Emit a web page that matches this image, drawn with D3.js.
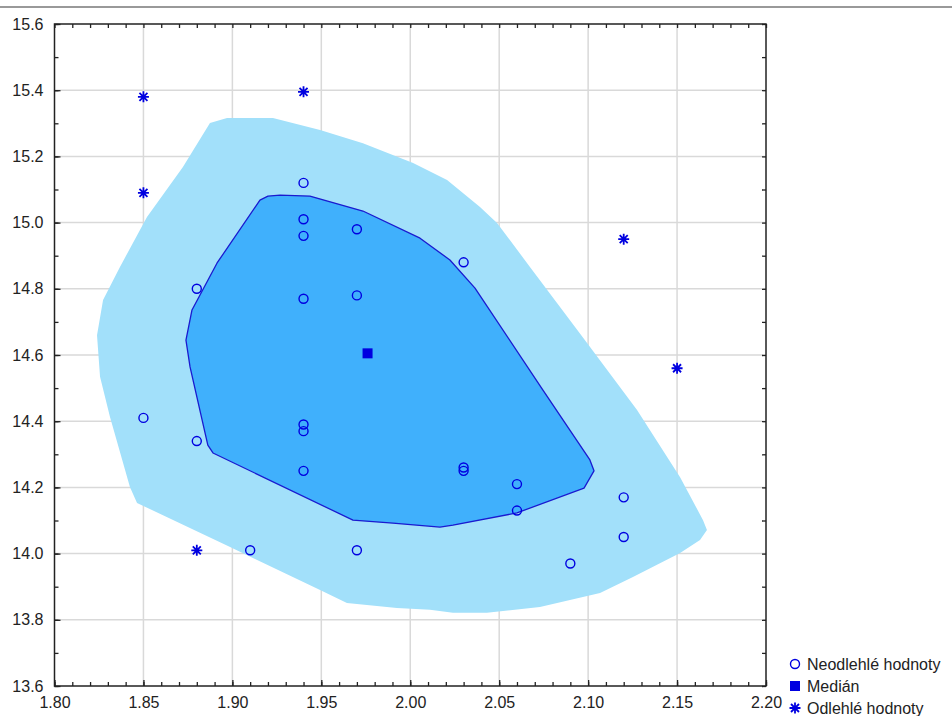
<!DOCTYPE html>
<meta charset="utf-8">
<style>
body { margin: 0; background: #fff; }
text { font-family: "Liberation Sans", Arial, sans-serif; fill: #222; }
.grid line { stroke: #d9d9d9; stroke-width: 1.5px; }
.axis path { display: none; }
.axis line { stroke: #222; stroke-width: 1.3px; }
</style>
<svg width="952" height="716"></svg>
<script src="https://d3js.org/d3.v7.min.js"></script>
<script>

// non-outlier points (x, y)
var inX = [1.94, 1.94, 1.94, 1.97, 2.03, 1.88, 1.94, 1.97, 1.85, 1.94, 1.94, 1.88, 1.94, 2.03, 2.03, 2.06, 2.06, 2.12, 2.12, 1.91, 1.97, 2.09];
var inY = [15.12, 15.01, 14.96, 14.98, 14.88, 14.80, 14.77, 14.78, 14.41, 14.39, 14.37, 14.34, 14.25, 14.26, 14.25, 14.21, 14.13, 14.17, 14.05, 14.01, 14.01, 13.97];

// outliers
var outX = [1.85, 1.85, 1.94, 2.12, 2.15, 1.88];
var outY = [15.38, 15.09, 15.395, 14.95, 14.56, 14.01];

// median
var medX = 1.976, medY = 14.605;

// bag (inner hull)
var bagX = [1.9155, 1.920, 1.9268, 1.9436, 1.9734, 2.0055, 2.0223, 2.0364, 2.0746, 2.101, 2.1033, 2.0977, 2.060, 2.024, 2.0167, 1.9903, 1.9678, 1.8891, 1.8862, 1.8762, 1.8739, 1.8773, 1.8914];
var bagY = [15.068, 15.080, 15.083, 15.080, 15.035, 14.953, 14.887, 14.802, 14.494, 14.283, 14.250, 14.198, 14.123, 14.086, 14.080, 14.092, 14.101, 14.304, 14.328, 14.564, 14.645, 14.736, 14.878];

// fence (outer hull)
var fenceX = [1.8239, 1.8273, 1.8368, 1.852, 1.8722, 1.8874, 1.897, 1.9228, 1.9493, 1.9734, 2.0016, 2.0207, 2.0392, 2.0488, 2.0673, 2.0994, 2.1275, 2.1517, 2.1646, 2.1668, 2.1629, 2.1517, 2.1252, 2.1067, 2.0729, 2.0431, 2.024, 2.0111, 1.9925, 1.9644, 1.9493, 1.8987, 1.8464, 1.8424, 1.8312, 1.8256];
var fenceY = [14.660, 14.766, 14.866, 15.017, 15.168, 15.301, 15.316, 15.316, 15.280, 15.240, 15.180, 15.129, 15.047, 14.999, 14.866, 14.636, 14.434, 14.231, 14.101, 14.071, 14.041, 14.002, 13.929, 13.881, 13.839, 13.821, 13.821, 13.830, 13.836, 13.851, 13.890, 14.020, 14.153, 14.201, 14.413, 14.534];

var xTicks = [1.80, 1.85, 1.90, 1.95, 2.00, 2.05, 2.10, 2.15, 2.20];
var yTicks = [13.6, 13.8, 14.0, 14.2, 14.4, 14.6, 14.8, 15.0, 15.2, 15.4, 15.6];
var legendLabels = ["Neodlehlé hodnoty", "Medián", "Odlehlé hodnoty"];

function pairs(xs, ys) {
  return xs.map(function(v, i) { return [v, ys[i]]; });
}

var svg = d3.select("svg");
var pLeft = 54.5, pRight = 766, pTop = 24, pBottom = 686;

var x = d3.scaleLinear().domain([1.8, 2.2]).range([pLeft, pRight]);
var y = d3.scaleLinear().domain([13.6, 15.6]).range([pBottom, pTop]);

var blue = "#0000e0";

// separator line at top
svg.append("line")
    .attr("x1", 0).attr("x2", 952).attr("y1", 7).attr("y2", 7)
    .attr("stroke", "#777").attr("stroke-width", 1.5);

// grid
var grid = svg.append("g").attr("class", "grid");
grid.selectAll(".gx").data(xTicks.slice(1, -1)).enter().append("line")
    .attr("x1", function(d) { return x(d); }).attr("x2", function(d) { return x(d); })
    .attr("y1", pTop).attr("y2", pBottom);
grid.selectAll(".gy").data(yTicks.slice(1, -1)).enter().append("line")
    .attr("y1", function(d) { return y(d); }).attr("y2", function(d) { return y(d); })
    .attr("x1", pLeft).attr("x2", pRight);

// hulls
var hullLine = d3.line()
    .x(function(d) { return x(d[0]); })
    .y(function(d) { return y(d[1]); })
    .curve(d3.curveLinearClosed);

svg.append("path")
    .attr("d", hullLine(pairs(fenceX, fenceY)))
    .attr("fill", "#a2e0fa");

svg.append("path")
    .attr("d", hullLine(pairs(bagX, bagY)))
    .attr("fill", "#40b0fc")
    .attr("stroke", "#1a1ad0")
    .attr("stroke-width", 1.3)
    .attr("stroke-linejoin", "round");

// axes frame
svg.append("rect")
    .attr("x", pLeft).attr("y", pTop)
    .attr("width", pRight - pLeft).attr("height", pBottom - pTop)
    .attr("fill", "none").attr("stroke", "#222").attr("stroke-width", 1.5);

var minorX = d3.range(0, 41).map(function(i) { return 1.8 + i * 0.01; });
var minorY = d3.range(0, 21).map(function(i) { return 13.6 + i * 0.1; });

svg.append("g").attr("class", "axis")
    .attr("transform", "translate(0," + pBottom + ")")
    .call(d3.axisBottom(x).tickValues(minorX).tickSize(-4).tickFormat(""));
svg.append("g").attr("class", "axis")
    .attr("transform", "translate(0," + pTop + ")")
    .call(d3.axisTop(x).tickValues(minorX).tickSize(-4).tickFormat(""));
svg.append("g").attr("class", "axis")
    .attr("transform", "translate(" + pLeft + ",0)")
    .call(d3.axisLeft(y).tickValues(minorY).tickSize(-4).tickFormat(""));
svg.append("g").attr("class", "axis")
    .attr("transform", "translate(" + pRight + ",0)")
    .call(d3.axisRight(y).tickValues(minorY).tickSize(-4).tickFormat(""));

// tick labels
var xLab = svg.append("g").attr("class", "axis")
    .attr("transform", "translate(0," + pBottom + ")")
    .call(d3.axisBottom(x).tickValues(xTicks).tickSize(-6).tickPadding(11).tickFormat(d3.format(".2f")));
xLab.selectAll("text").attr("font-size", 16).attr("fill", "#222");

var yLab = svg.append("g").attr("class", "axis")
    .attr("transform", "translate(" + pLeft + ",0)")
    .call(d3.axisLeft(y).tickValues(yTicks).tickSize(-6).tickPadding(11).tickFormat(d3.format(".1f")));
yLab.selectAll("text").attr("font-size", 16).attr("fill", "#222");

// markers
var asterisk = "M-5.5,0H5.5M0,-5.5V5.5M-4,-4L4,4M-4,4L4,-4";

svg.append("g").selectAll("circle")
    .data(pairs(inX, inY)).enter().append("circle")
    .attr("cx", function(d) { return x(d[0]); })
    .attr("cy", function(d) { return y(d[1]); })
    .attr("r", 4.5)
    .attr("fill", "none")
    .attr("stroke", blue)
    .attr("stroke-width", 1.4);

svg.append("g").selectAll("path")
    .data(pairs(outX, outY)).enter().append("path")
    .attr("transform", function(d) { return "translate(" + x(d[0]) + "," + y(d[1]) + ")"; })
    .attr("d", asterisk)
    .attr("stroke", blue)
    .attr("stroke-width", 1.8);

svg.append("rect")
    .attr("x", x(medX) - 5).attr("y", y(medY) - 5)
    .attr("width", 10).attr("height", 10)
    .attr("fill", blue);

// legend
var lg = svg.append("g").attr("transform", "translate(795,664)");
var rowH = 22;
lg.append("circle").attr("cx", 0).attr("cy", 0).attr("r", 4.5)
    .attr("fill", "none").attr("stroke", blue).attr("stroke-width", 1.4);
lg.append("rect").attr("x", -5).attr("y", rowH - 5).attr("width", 10).attr("height", 10).attr("fill", blue);
lg.append("path").attr("transform", "translate(0," + (2 * rowH) + ")")
    .attr("d", asterisk).attr("stroke", blue).attr("stroke-width", 1.8);
lg.selectAll("text").data(legendLabels).enter().append("text")
    .attr("x", 12)
    .attr("y", function(d, i) { return i * rowH + 5.5; })
    .attr("font-size", 16)
    .text(function(d) { return d; });

</script>
